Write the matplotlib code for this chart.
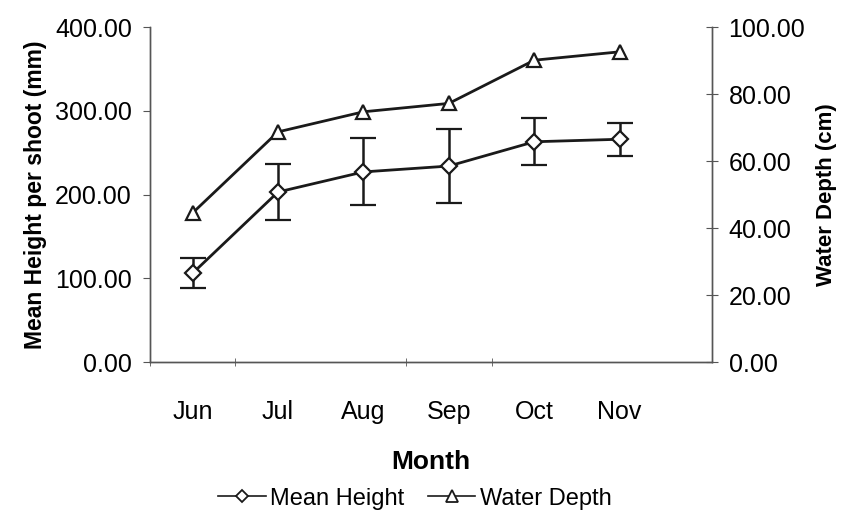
import matplotlib.pyplot as plt
from matplotlib.lines import Line2D

plt.rcParams['font.family'] = ['Liberation Sans', 'DejaVu Sans']

months = ['Jun', 'Jul', 'Aug', 'Sep', 'Oct', 'Nov']
mean_height = [106, 203, 227, 234, 263, 266]
height_err = [18, 33, 40, 44, 28, 20]
water_depth = [44.5, 68.7, 74.7, 77.2, 90.1, 92.6]

fig = plt.figure(figsize=(8.42, 5.13), dpi=100)
ax = fig.add_axes([0.178, 0.2943, 0.6675, 0.653])
ax2 = ax.twinx()

x = list(range(len(months)))
ax.errorbar(x, mean_height, yerr=height_err, color='#1a1a1a', lw=2,
            marker='D', ms=8, mfc='white', mec='#1a1a1a', mew=1.6,
            capsize=9.5, capthick=2, elinewidth=1.8)
ax2.plot(x, water_depth, color='#1a1a1a', lw=2, marker='^', ms=10,
         mfc='white', mec='#1a1a1a', mew=1.6)

ax.set_xlim(-0.5, 6.08)
ax.set_ylim(0, 400)
ax2.set_ylim(0, 100)
ax.set_yticks([0, 100, 200, 300, 400])
ax.set_yticklabels(['%.2f' % v for v in [0, 100, 200, 300, 400]])
ax2.set_yticks([0, 20, 40, 60, 80, 100])
ax2.set_yticklabels(['%.2f' % v for v in [0, 20, 40, 60, 80, 100]])
ax.set_xticks(x)
ax.set_xticklabels(months)
ax.set_xticks([-0.5, 0.5, 2.5, 3.5], minor=True)

for a in (ax, ax2):
    a.spines['top'].set_visible(False)
    for s in ('left', 'right', 'bottom'):
        a.spines[s].set_color('#555555')
        a.spines[s].set_linewidth(1)

ax.tick_params(axis='x', which='major', length=0, labelsize=18, pad=27)
ax.tick_params(axis='x', which='minor', length=6, color='#555555', direction='inout')
ax.tick_params(axis='y', length=5, color='#555555', labelsize=18, pad=8)
ax2.tick_params(axis='y', length=8, color='#555555', direction='inout',
                labelsize=18, pad=8)

ax.set_ylabel('Mean Height per shoot (mm)', fontsize=16.5, fontweight='bold', labelpad=6)
ax2.set_ylabel('Water Depth (cm)', fontsize=16, fontweight='bold', labelpad=8)
ax.set_xlabel('Month', fontsize=19, fontweight='bold', labelpad=19)

handles = [
    Line2D([], [], color='#1a1a1a', lw=1.2, marker='D', ms=6.5, mfc='white', mew=1.3),
    Line2D([], [], color='#1a1a1a', lw=1.2, marker='^', ms=8, mfc='white', mew=1.3),
]
fig.legend(handles, ['Mean Height', 'Water Depth'], loc='lower center',
           bbox_to_anchor=(0.493, -0.035), ncol=2, frameon=False, fontsize=17,
           handlelength=2.0, handletextpad=0.2, columnspacing=1.0)

fig.savefig('out.png', dpi=100)
